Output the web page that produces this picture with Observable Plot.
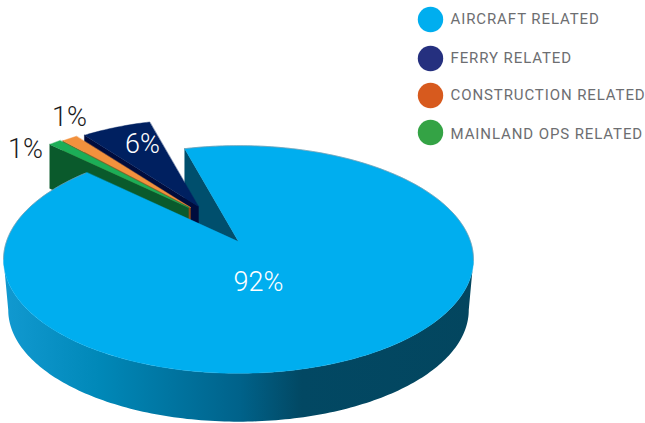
<!DOCTYPE html>
<html>
<head>
<meta charset="utf-8">
<script src="https://cdn.jsdelivr.net/npm/d3@7"></script>
<script src="https://cdn.jsdelivr.net/npm/@observablehq/plot@0.6"></script>
<style>
html,body{margin:0;padding:0;background:#fff}
svg{display:block;overflow:visible}
g[fill="#6d6e71"] text{letter-spacing:.9px}
</style>
</head>
<body>
<div id="chart"></div>
<script>
// Data
const categories = ["AIRCRAFT RELATED", "FERRY RELATED", "CONSTRUCTION RELATED", "MAINLAND OPS RELATED"];
const shares = [91.4, 6.1, 1.4, 1.1];
const shareLabels = ["92%", "6%", "1%", "1%"];
const legendColors = ["#00aeef", "#25307f", "#d75a1e", "#34a345"];

// Styling of the slices
const topColors = ["#00aeef", "#002060", "#f2913d", "#1cae57"];
const wallColors = ["#004f6d", "#000c3d", "#8f4a14", "#0a5a2c"];
const sweepOrder = [0, 3, 2, 1];               // clockwise from the large slice
const apexX = [238, 198, 190, 188];
const apexY = [241, 206, 207, 207];
const radius = [1, 0.91, 0.91, 0.915];
const labelX = [258, 142, 69, 25];
const labelY = [282, 144, 117, 149];
const labelFill = ["#fff", "#fff", "#1a1a1a", "#1a1a1a"];
const legendDotY = [19, 58, 95, 132];
const legendTextY = [18.5, 57.5, 95, 134];
const shadeStops = [0, 0.2, 0.5, 0.63, 1];
const shadeColors = ["#1199d0", "#0088b8", "#00628a", "#024863", "#03465f"];

// Perspective of the disc
const A = 232, B = 111, K = 0.158, START = -15.5, DEPTH = 51;
const rad = Math.PI / 180;
const project = (deg, r, ax, ay, dz = 0, s = 1) => {
  const c = Math.cos(deg * rad), n = Math.sin(deg * rad), w = 1 + K * c;
  return {x: ax + s * A * r * n / w, y: ay - s * B * r * c / w + dz};
};

// Angular extent of each slice, from its share
const extent = [];
let cursor = START;
for (const i of sweepOrder) {
  extent[i] = [cursor, cursor + shares[i] * 3.6];
  cursor += shares[i] * 3.6;
}

const faces = [];
const add = (id, color, pts) => pts.forEach(p => faces.push({...p, id, color}));
const rim = (i, dz = 0) => {
  const [a, b] = extent[i], n = Math.max(2, Math.ceil(b - a));
  return d3.range(n + 1).map(k => project(a + (b - a) * k / n, radius[i], apexX[i], apexY[i], dz));
};
const cutWall = (id, i, deg, color, dz) => add(id, color, [
  project(deg, radius[i], apexX[i], apexY[i]),
  project(deg, radius[i], apexX[i], apexY[i], dz),
  {x: apexX[i], y: apexY[i] + dz},
  {x: apexX[i], y: apexY[i]}
]);
const topFace = (id, i) => add(id, topColors[i], [{x: apexX[i], y: apexY[i]}, ...rim(i)]);

// Outer wall of the big slice, between the silhouette extremes, with a horizontal gradient
const wallDegrees = d3.range(99, 262);
const outerWall = [
  ...wallDegrees.map(d => project(d, 1, apexX[0], apexY[0])),
  ...wallDegrees.slice().reverse().map(d => project(d, 1, apexX[0], apexY[0], DEPTH, 0.98))
];
const gradientDefs = () => {
  const defs = d3.create("svg:defs");
  const g = defs.append("linearGradient").attr("id", "wallShade")
    .attr("gradientUnits", "userSpaceOnUse")
    .attr("x1", 5).attr("x2", 475).attr("y1", 0).attr("y2", 0);
  shadeStops.forEach((o, i) => g.append("stop").attr("offset", o).attr("stop-color", shadeColors[i]));
  return defs.node();
};

// Soft grey edge on the far half of the disc
const edge = [
  ...d3.range(START, 100, 1).map(d => ({...project(d, 1, apexX[0], apexY[0]), part: "right"})),
  ...d3.range(261, extent[0][1], 1).map(d => ({...project(d, 1, apexX[0], apexY[0]), part: "left"}))
];

// Painter's order, back to front
cutWall("w0", 0, extent[0][0], wallColors[0], DEPTH);
cutWall("w1", 1, extent[1][0], wallColors[1], 44);
topFace("t1", 1);
cutWall("w2", 2, extent[2][0], wallColors[2], 44);
topFace("t2", 2);
cutWall("w3", 3, extent[3][0], wallColors[3], 44);
topFace("t3", 3);
topFace("t0", 0);

const idx = d3.range(categories.length);
const fontFamily = "Roboto, sans-serif";
const chart = Plot.plot({
  width: 645, height: 423,
  marginTop: 0, marginRight: 0, marginBottom: 0, marginLeft: 0,
  x: {domain: [0, 645], range: [0, 645], axis: null},
  y: {domain: [0, 423], range: [0, 423], axis: null},
  color: {type: "identity"},
  style: {background: "#fff", fontFamily},
  marks: [
    gradientDefs,
    Plot.line(outerWall, {x: "x", y: "y", fill: "url(#wallShade)", stroke: "none", curve: "linear-closed"}),
    Plot.line(faces, {x: "x", y: "y", z: "id", fill: "color", stroke: "color", strokeWidth: 0.4, curve: "linear-closed"}),
    Plot.line(edge, {x: "x", y: "y", z: "part", stroke: "#8a9aa3", strokeWidth: 0.8, strokeOpacity: 0.8}),
    Plot.text(idx, {
      x: i => labelX[i], y: i => labelY[i], text: i => shareLabels[i], fill: i => labelFill[i],
      fontSize: 27, fontWeight: 300, textAnchor: "middle", fontFamily
    }),
    Plot.dot(idx, {x: () => 430, y: i => legendDotY[i], r: 12.7, fill: i => legendColors[i], stroke: "none"}),
    Plot.text(idx, {
      x: () => 450, y: i => legendTextY[i], text: i => categories[i], fill: "#6d6e71",
      fontSize: 15, textAnchor: "start", fontFamily
    })
  ]
});
document.getElementById("chart").append(chart);
</script>
</body>
</html>
